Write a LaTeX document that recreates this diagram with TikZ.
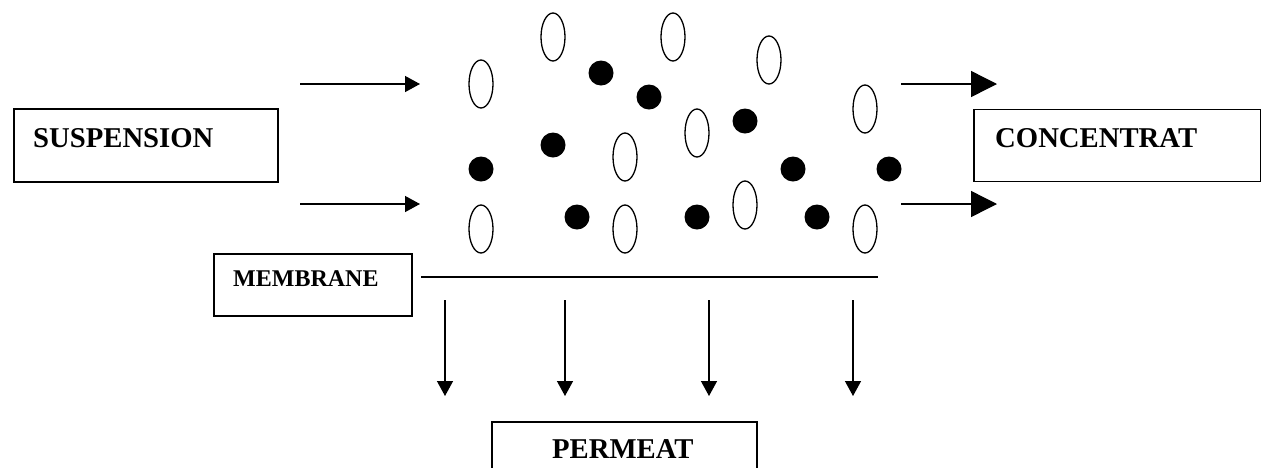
\documentclass[tikz,border=0pt]{standalone}
\usepackage{fontspec}
\setmainfont{Liberation Serif}
\usetikzlibrary{shapes.geometric,arrows.meta}
\begin{document}
\begin{tikzpicture}[x=1pt,y=-1pt,
  box/.style={draw,line width=1.5pt,inner sep=0pt,anchor=north west},
  lbl/.style={anchor=base west,inner sep=0pt,font=\bfseries\fontsize{28.7}{34}\selectfont},
  lblsmall/.style={anchor=base west,inner sep=0pt,font=\bfseries\fontsize{24}{28}\selectfont},
  oval/.style={draw,ellipse,line width=1.3pt,minimum width=24pt,minimum height=48pt,inner sep=0pt},
  dot/.style={circle,fill=black,minimum size=25pt,inner sep=0pt},
  smallarrow/.style={line width=1.4pt,-{Triangle[length=15pt,width=16pt]}},
  bigarrow/.style={line width=1.4pt,-{Triangle[length=26pt,width=26pt]}},
  memline/.style={line width=1.5pt}]
\clip (0,0) rectangle (1261,467);
\fill[white] (0,0) rectangle (1261,467);
% boxes
\node[box,minimum width=264pt,minimum height=73pt] (susp) at (13,108) {};
\node[lbl] (susptext) at (33,147) {SUSPENSION};
\node[box,minimum width=287pt,minimum height=72pt] (conc) at (973,108.5) {};
\node[lbl] (conctext) at (995,147) {CONCENTRAT};
\node[box,minimum width=198pt,minimum height=62pt] (memb) at (213,253) {};
\node[lblsmall] (membtext) at (233,286) {MEMBRANE};
\node[box,minimum width=265pt,minimum height=70pt] (perm) at (491,421) {};
\node[lbl] (permtext) at (552,458) {PERMEAT};
% particles: ovals
\node[oval] (o1) at (481,84) {};
\node[oval] (o2) at (553,37) {};
\node[oval] (o3) at (673,37) {};
\node[oval] (o4) at (769,60) {};
\node[oval] (o5) at (865,109) {};
\node[oval] (o6) at (697,133) {};
\node[oval] (o7) at (625,157) {};
\node[oval] (o8) at (745,205) {};
\node[oval] (o9) at (481,229) {};
\node[oval] (o10) at (625,229) {};
\node[oval] (o11) at (865,229) {};
% particles: dots
\node[dot] (d1) at (601,73) {};
\node[dot] (d2) at (649,97) {};
\node[dot] (d3) at (745,121) {};
\node[dot] (d4) at (553,145) {};
\node[dot] (d5) at (481,169) {};
\node[dot] (d6) at (793,169) {};
\node[dot] (d7) at (889,169) {};
\node[dot] (d8) at (577,217) {};
\node[dot] (d9) at (697,217) {};
\node[dot] (d10) at (817,217) {};
% arrow end points
\coordinate (in1s) at (300,84);  \coordinate (in1e) at (420,84);
\coordinate (in2s) at (300,204); \coordinate (in2e) at (420,204);
\coordinate (out1s) at (901,84);  \coordinate (out1e) at (997,84);
\coordinate (out2s) at (901,204); \coordinate (out2e) at (997,204);
\coordinate (ms) at (421,277); \coordinate (me) at (878,277);
\foreach \i/\x in {1/445,2/565,3/709,4/853}{
  \coordinate (p\i s) at (\x,300);
  \coordinate (p\i e) at (\x,396);
}
% connectors
\draw[smallarrow] (in1s) -- (in1e);
\draw[smallarrow] (in2s) -- (in2e);
\draw[bigarrow] (out1s) -- (out1e);
\draw[bigarrow] (out2s) -- (out2e);
\draw[memline] (ms) -- (me);
\foreach \i in {1,2,3,4}{
  \draw[smallarrow] (p\i s) -- (p\i e);
}
\end{tikzpicture}
\end{document}
